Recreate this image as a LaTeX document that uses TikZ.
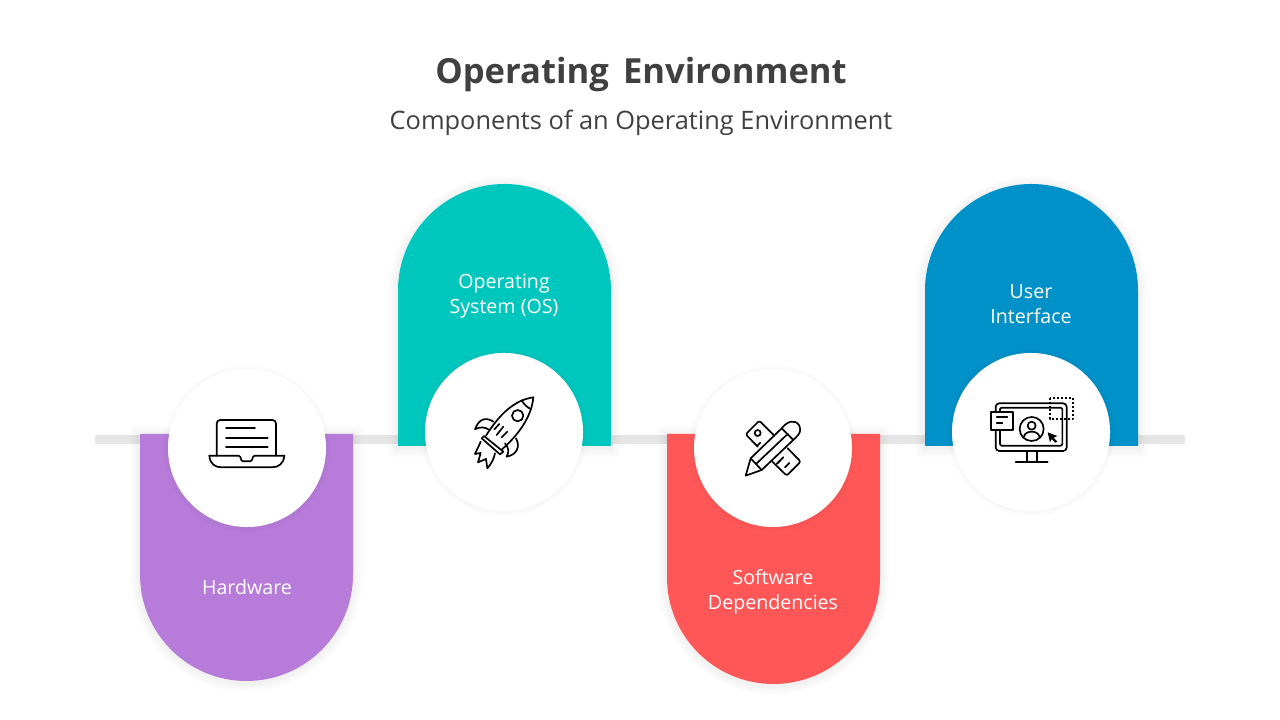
\documentclass[tikz,border=0pt]{standalone}
\usepackage{fontspec}
\setmainfont{Open Sans}
\definecolor{inkgray}{HTML}{404040}
\definecolor{linegray}{HTML}{E6E6E6}
\definecolor{hardpurple}{HTML}{B77BDA}
\definecolor{osteal}{HTML}{00C7BE}
\definecolor{softred}{HTML}{FF5757}
\definecolor{uiblue}{HTML}{0091C8}
\tikzset{
	disc/.style={circle,fill=white,inner sep=0pt,minimum size=3.95cm},
	caption/.style={text=white,font=\fontsize{13.95}{17.8}\selectfont,align=center},
	iconpart/.style={shift={(#1)},x=.008333cm,y=-.008333cm,line width=1.2pt,line join=round,line cap=round},
	glow/.style={draw=black,draw opacity=.007,line width=#1,fill=none},
	dots/.style={line width=1.5pt,line cap=butt,dash pattern=on 1.4pt off 1.4pt},
}
\newcommand{\capdown}[4]{%left, top, centre of arc, colour
	\foreach\w in{2,4,...,14}{\draw[glow=\w pt]([yshift=-1pt]#1,#2)--([yshift=-1pt]#1,#3)arc[start angle=180,end angle=360,radius=106.5]--([yshift=-1pt]#1+213,#2)--cycle;}
	\fill[#4](#1,#2)--(#1,#3)arc[start angle=180,end angle=360,radius=106.5]--(#1+213,#2)--cycle;
}
\newcommand{\capup}[4]{%left, bottom, centre of arc, colour
	\foreach\w in{2,4,...,14}{\draw[glow=\w pt]([yshift=-1pt]#1,#2)--([yshift=-1pt]#1,#3)arc[start angle=180,end angle=0,radius=106.5]--([yshift=-1pt]#1+213,#2)--cycle;}
	\fill[#4](#1,#2)--(#1,#3)arc[start angle=180,end angle=0,radius=106.5]--(#1+213,#2)--cycle;
}
\newcommand{\discglow}[2]{%
	\foreach\w in{1,3,...,7}{\draw[glow=\w pt]([yshift=-.5pt]#1,#2)circle(79);}
}
\begin{document}
\begin{tikzpicture}[x=.025cm,y=.025cm]
	\useasboundingbox(0,0)rectangle(1280,720);
	\node[text=inkgray,font=\fontsize{24.6}{30}\selectfont\bfseries](title)at(641,645){Operating\hspace{.15em} Environment};
	\node[text=inkgray,font=\fontsize{18.05}{22}\selectfont](subtitle)at(641,597){Components of an Operating Environment};
	\fill[linegray](95,276)rectangle(1185,285);
	\capdown{140}{286}{145.5}{hardpurple}
	\capup{398}{274}{429.5}{osteal}
	\capdown{667}{286}{142.5}{softred}
	\capup{925}{274}{429.5}{uiblue}
	\foreach\c/\t in{247/272,504/288,773/272,1031/288}{\discglow{\c}{\t}}
	\node[disc](hardwaredisc)at(247,272){};
	\node[disc](osdisc)at(504,288){};
	\node[disc](softwaredisc)at(773,272){};
	\node[disc](uidisc)at(1031,288){};
	\node[caption](hardware)at(247,133){Hardware};
	\node[caption](os)at(504,424){Operating\\System (OS)};
	\node[caption](software)at(773,128){Software\\Dependencies};
	\node[caption](ui)at(1031,416){User\\Interface};
	%laptop
	\begin{scope}[iconpart={190,330}]
		\draw[rounded corners=2.5pt](80,197)--(80,90)--(258,90)--(258,197);
		\draw[rounded corners=1pt](58,197)--(150,197)--(155,214)--(185,214)--(190,197)--(283,197);
		\draw(58,197)..controls(60,222)and(75,232)..(95,232)--(245,232)..controls(265,232)and(281,222)..(283,197);
		\draw(108,115)--(195,115);
		\draw(108,143)--(233,143);
		\draw(108,170)--(233,170);
	\end{scope}
	%rocket
	\begin{scope}[iconpart={450,335}]
		\draw(250,37)..controls(195,45)and(150,85)..(108,152);
		\draw(250,37)..controls(245,95)and(205,150)..(156,193);
		\draw(102,153)--(160,200)--(150,208)--(95,160)--cycle;
		\draw(215,46)..controls(222,58)and(232,68)..(243,72);
		\draw(203,92)circle(17);
		\draw(148,117)--(133,133);
		\draw(160,125)--(140,150);
		\draw(172,140)--(155,157);
		\draw(130,110)..controls(105,93)and(85,105)..(75,133)..controls(90,125)and(105,125)..(118,135);
		\draw(198,160)..controls(212,185)and(200,210)..(170,215)..controls(178,200)and(176,188)..(165,175);
		\draw(92,170)..controls(88,180)and(80,195)..(75,207)--(92,204)--(84,232)--(108,222)--(112,250)..controls(125,235)and(132,220)..(135,205);
	\end{scope}
	%ruler and pencil
	\begin{scope}[iconpart={720,315}]
		\draw[rounded corners=1.5pt](163,92)--(118,47)--(77,88)--(113,125);
		\draw[rounded corners=1.5pt](203,130)--(242,170)--(200,212)--(157,170);
		\draw(113,84)circle(9);
		\draw(121,113)--(112,122);
		\draw(190,157)--(170,177);
		\draw(208,174)--(195,187);
		\draw(173,174)--(180,167);
		\draw(77,212)--(92,160)--(185,70)..controls(200,50)and(225,40)..(238,62)..controls(245,78)and(238,88)..(225,100)--(125,195)--cycle;
		\draw(185,70)--(220,105);
		\draw(92,160)--(125,195);
		\draw(108,177)--(203,87);
	\end{scope}
	%user interface screen
	\begin{scope}[iconpart={975,335}]
		\draw[rounded corners=2.5pt](62,80)--(62,55)--(275,55)--(275,198)--(62,198)--(62,137);
		\draw[rounded corners=1pt](75,137)--(75,182)--(262,182)--(262,68)--(75,68)--(75,80);
		\draw(155,198)--(155,232);
		\draw(185,198)--(185,232);
		\draw(122,232)--(218,232);
		\draw(47,80)rectangle(113,135);
		\draw(65,97)--(97,97);
		\draw(65,113)--(82,113);
		\draw(170,132)circle(36);
		\draw(170,122)circle(12);
		\draw(147,155)..controls(150,135)and(190,135)..(193,155);
		\fill(218,142)--(247,153)--(236,158)--(247,170)--(241,173)--(230,162)--(225,172)--cycle;
		\draw[dots,fill=none](225,38)rectangle(293,102);
	\end{scope}
\end{tikzpicture}
\end{document}
